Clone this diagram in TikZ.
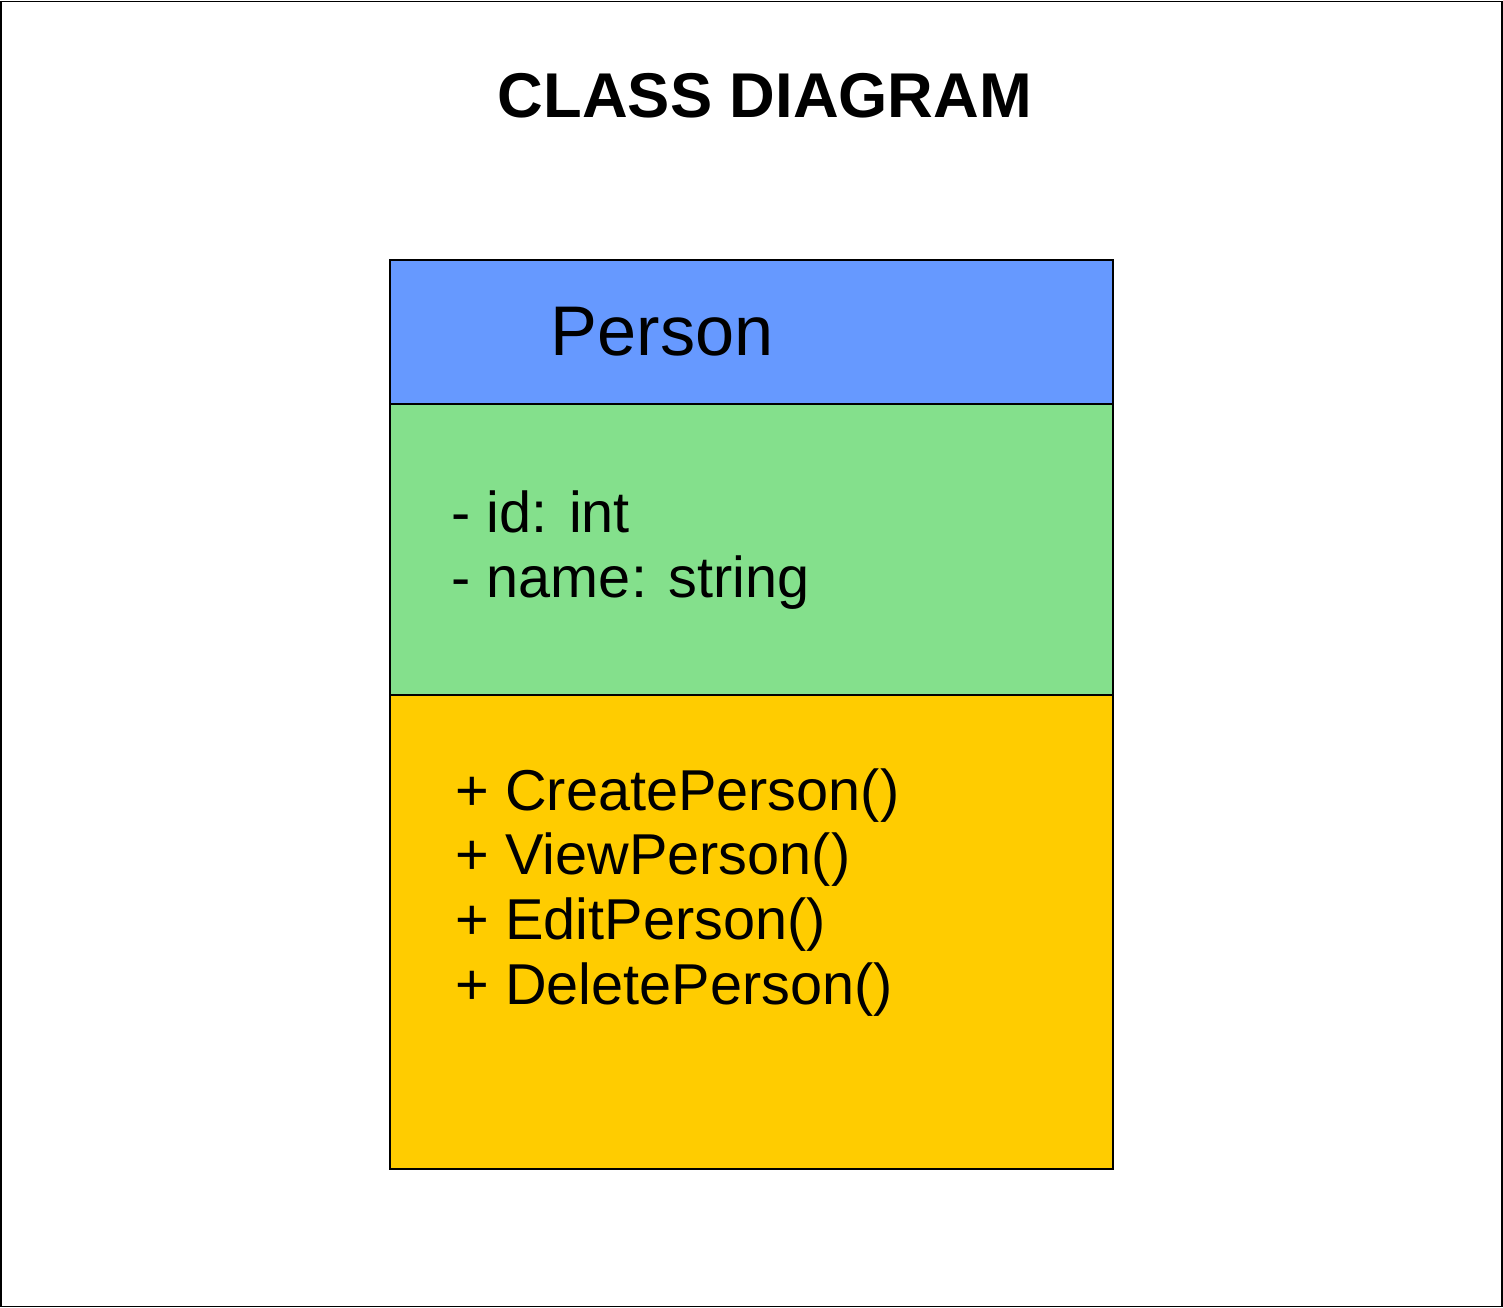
\documentclass[tikz,border=0pt]{standalone}
\usepackage{fontspec}
\setmainfont{Liberation Sans}
\usetikzlibrary{positioning}
\definecolor{ClassBlue}{HTML}{6699FF}
\definecolor{ClassGreen}{HTML}{84E08C}
\definecolor{ClassYellow}{HTML}{FFCC00}

\begin{document}
\begin{tikzpicture}[
    part/.style={draw=black, line width=0.5pt, minimum width=7.23cm, inner sep=0pt, outer sep=0pt},
    member/.style={anchor=base west, inner sep=0pt, font=\fontsize{16.4}{19}\selectfont},
    title/.style={anchor=base, inner sep=0pt, font=\fontsize{18}{21}\selectfont\bfseries}
  ]
    \useasboundingbox (0,0) rectangle (15.03,13.08);
    \node[draw=black, line width=0.5pt, minimum width=15.01cm, minimum height=13.05cm,
      inner sep=0pt] (frame) at (7.515,6.54) {};
    \node[title] (heading) at (7.65,11.90) {CLASS DIAGRAM};

    % compartments
    \node[part, fill=ClassBlue, minimum height=1.44cm, anchor=north] (head) at (7.515,10.48) {};
    \node[part, fill=ClassGreen, minimum height=2.91cm, below=0pt of head] (attrs) {};
    \node[part, fill=ClassYellow, minimum height=4.74cm, below=0pt of attrs] (ops) {};

    \node[member, font=\fontsize{20}{24}\selectfont] (name) at (5.50,9.52) {Person};

    \node[member] (attrid) at (4.51,7.75) {- id: int};
    \node[member] (attrname) at (4.51,7.10) {- name: string};

    \node[member] (opcreate) at (4.55,4.97) {+ CreatePerson()};
    \node[member] (opview) at (4.55,4.33) {+ ViewPerson()};
    \node[member] (opedit) at (4.55,3.68) {+ EditPerson()};
    \node[member] (opdelete) at (4.55,3.03) {+ DeletePerson()};
  \end{tikzpicture}
\end{document}
